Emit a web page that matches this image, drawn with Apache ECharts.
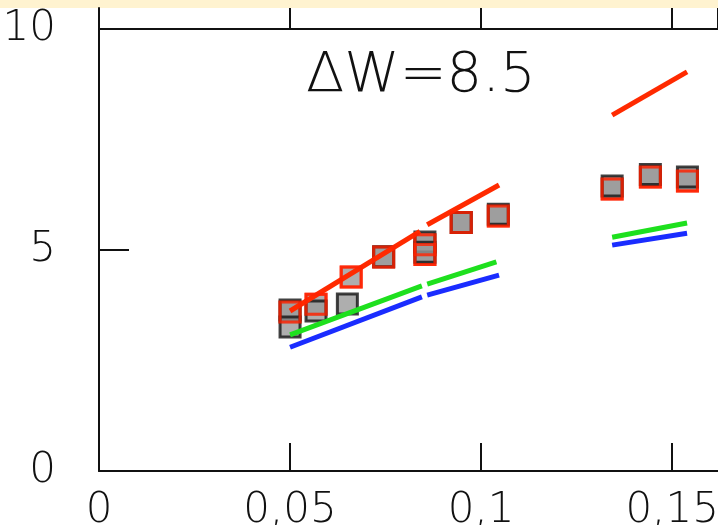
<!DOCTYPE html>
<html>
<head>
<meta charset="utf-8">
<script src="https://cdn.jsdelivr.net/npm/echarts@6/dist/echarts.min.js"></script>
<style>
html,body{margin:0;padding:0;background:#fff;}
#chart{width:718px;height:525px;}
</style>
</head>
<body>
<div id="chart"></div>
<script>
// ---- data ----
var titleText = 'ΔW=8.5';
var xTickLabels = ['0', '0,05', '0,1', '0,15'];
var yTickLabels = ['0', '5', '10'];

// gray squares with black outline
var blackX = [0.05, 0.05, 0.0568, 0.065, 0.0745, 0.0853, 0.0853, 0.0948, 0.1045, 0.1343, 0.1443, 0.154];
var blackY = [3.64, 3.26, 3.62, 3.78, 4.85, 5.18, 4.95, 5.62, 5.81, 6.45, 6.71, 6.65];
// red outlined squares
var redSqX = [0.05, 0.0568, 0.066, 0.0745, 0.0853, 0.0853, 0.0948, 0.1045, 0.1343, 0.1443, 0.154];
var redSqY = [3.60, 3.77, 4.39, 4.84, 5.12, 4.90, 5.62, 5.77, 6.38, 6.65, 6.56];

// lines (null separates segments)
var redLineX   = [0.05, 0.084, null, 0.0859, 0.1047, null, 0.1343, 0.1539];
var redLineY   = [3.62, 5.42, null, 5.57, 6.47, null, 8.05, 9.03];
var greenLineX = [0.05, 0.0845, null, 0.0859, 0.104, null, 0.1343, 0.1539];
var greenLineY = [3.08, 4.19, null, 4.23, 4.73, null, 5.29, 5.61];
var blueLineX  = [0.05, 0.0845, null, 0.0859, 0.1047, null, 0.1343, 0.1539];
var blueLineY  = [2.80, 3.94, null, 3.98, 4.43, null, 5.11, 5.38];

function pairs(xs, ys) {
  var out = [];
  for (var i = 0; i < xs.length; i++) out.push([xs[i], ys[i]]);
  return out;
}
function segments(xs, ys) {
  var segs = [], cur = [];
  for (var i = 0; i < xs.length; i++) {
    if (xs[i] === null) { if (cur.length) segs.push(cur); cur = []; }
    else cur.push([xs[i], ys[i]]);
  }
  if (cur.length) segs.push(cur);
  return segs;
}

var FONT = '"DejaVu Sans", "Liberation Sans", sans-serif';
var XMAX = 0.162;
var GRAY = '#9a9a9a';

var series = [];
function addLines(xs, ys, color) {
  segments(xs, ys).forEach(function (seg) {
    series.push({
      type: 'line', xAxisIndex: 0, yAxisIndex: 0, data: seg,
      symbol: 'none', silent: true, z: 5,
      lineStyle: { color: color, width: 5 }
    });
  });
}

// red squares, filled (bottom layer)
series.push({
  type: 'scatter', xAxisIndex: 0, yAxisIndex: 0,
  data: pairs(redSqX, redSqY), symbol: 'rect', symbolSize: 20, z: 2,
  itemStyle: { color: GRAY, borderColor: '#ff2200', borderWidth: 3 }
});
// black squares
series.push({
  type: 'scatter', xAxisIndex: 0, yAxisIndex: 0,
  data: pairs(blackX, blackY), symbol: 'rect', symbolSize: 20, z: 3,
  itemStyle: { color: GRAY, borderColor: '#111', borderWidth: 3 }
});
addLines(blueLineX, blueLineY, '#1a2cff');
addLines(greenLineX, greenLineY, '#1ee01e');
addLines(redLineX, redLineY, '#ff2a00');
// red outlines on top
series.push({
  type: 'scatter', xAxisIndex: 0, yAxisIndex: 0,
  data: pairs(redSqX, redSqY), symbol: 'rect', symbolSize: 20, z: 6,
  itemStyle: { color: 'rgba(0,0,0,0)', borderColor: '#ff2200', borderWidth: 3 }
});

var chart = echarts.init(document.getElementById('chart'), null, { renderer: 'canvas' });
chart.setOption({
  animation: false,
  backgroundColor: '#ffffff',
  graphic: [
    { type: 'rect', left: 0, top: 0, shape: { width: 718, height: 8 }, style: { fill: '#fff3d0' }, z: -1 },
    { type: 'text', left: 306, top: 48, style: { text: titleText, font: '200 56px ' + FONT, fill: '#111' } }
  ],
  grid: [
    { left: 99, top: 29, width: 619, height: 442, containLabel: false, outerBoundsMode: 'none' },
    { left: 99, top: 8, width: 619, height: 21, containLabel: false, outerBoundsMode: 'none' }
  ],
  xAxis: [
    {
      type: 'value', gridIndex: 0, min: 0, max: XMAX, interval: 0.05,
      axisLine: { show: true, lineStyle: { color: '#111', width: 2 } },
      axisTick: { show: true, inside: true, length: 28, lineStyle: { color: '#111', width: 2 } },
      splitLine: { show: false },
      axisLabel: {
        margin: 19, fontSize: 42, fontFamily: FONT, fontWeight: 200, color: '#111',
        formatter: function (v) { var i = Math.round(v / 0.05); return xTickLabels[i] !== undefined ? xTickLabels[i] : ''; }
      }
    },
    {
      type: 'value', gridIndex: 1, min: 0, max: XMAX, interval: 0.05, position: 'bottom',
      axisLine: { show: true, onZero: false, lineStyle: { color: '#111', width: 2 } },
      axisTick: { show: true, inside: true, length: 21, lineStyle: { color: '#111', width: 2 } },
      splitLine: { show: false }, axisLabel: { show: false }
    }
  ],
  yAxis: [
    {
      type: 'value', gridIndex: 0, min: 0, max: 10, interval: 5,
      axisLine: { show: true, lineStyle: { color: '#111', width: 2 } },
      axisTick: { show: true, inside: true, length: 30, lineStyle: { color: '#111', width: 2 } },
      splitLine: { show: false },
      axisLabel: {
        margin: 43, fontSize: 42, fontFamily: FONT, fontWeight: 200, color: '#111',
        formatter: function (v) { var i = Math.round(v / 5); return yTickLabels[i] !== undefined ? yTickLabels[i] : ''; }
      }
    },
    {
      type: 'value', gridIndex: 1, min: 0, max: 1,
      axisLine: { show: true, lineStyle: { color: '#111', width: 2 } },
      axisTick: { show: false }, splitLine: { show: false }, axisLabel: { show: false }
    }
  ],
  series: series
});
</script>
</body>
</html>
